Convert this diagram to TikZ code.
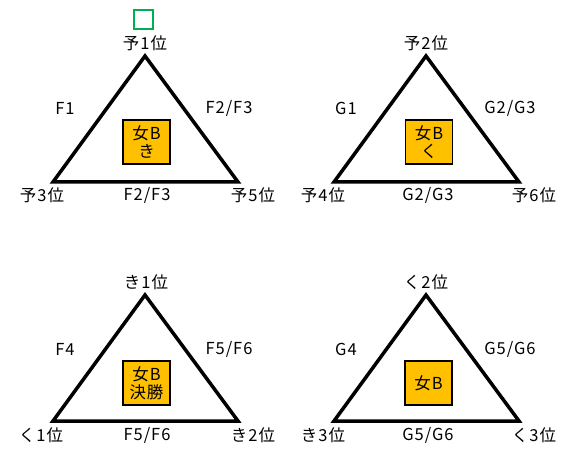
\documentclass[tikz,border=0pt]{standalone}
\usepackage{fontspec}
\setmainfont{Noto Sans CJK JP}[LetterSpace=6]
\definecolor{boxfill}{HTML}{FFC000}
\definecolor{markgreen}{HTML}{00B050}
\begin{document}
\begin{tikzpicture}[x=1pt,y=-1pt,
  tri/.style={line width=3.5pt,line join=miter},
  lbl/.style={inner sep=0pt,font=\fontsize{16.5}{18}\selectfont},
  centerbox/.style={draw=black,line width=1.6pt,fill=boxfill,minimum width=47pt,minimum height=44pt,inner sep=0pt,align=center,font=\fontsize{16.5}{17.5}\selectfont}]
\useasboundingbox (0,0) rectangle (562,454);
% green marker
\node[draw=markgreen,line width=1.3pt,minimum width=19pt,minimum height=19pt,inner sep=0pt] (mark) at (143.5,19.5) {};
% ---------- triangle 1 ----------
\begin{scope}
\coordinate (a1) at (145,56);
\coordinate (b1) at (53,182);
\coordinate (c1) at (238,182);
\draw[tri] (a1) -- (b1) -- (c1) -- cycle;
\node[centerbox] (box1) at (146.5,142) {女B\\き};
\node[lbl] (ta1) at (145,43) {予1位};
\node[lbl] (tl1) at (65,108) {F1};
\node[lbl] (tr1) at (229,108) {F2/F3};
\node[lbl] (tb1) at (147,195) {F2/F3};
\node[lbl] (bl1) at (42,195) {予3位};
\node[lbl] (br1) at (253,195) {予5位};
\end{scope}
% ---------- triangle 2 ----------
\begin{scope}
\coordinate (a2) at (426,56);
\coordinate (b2) at (334,182);
\coordinate (c2) at (519,182);
\draw[tri] (a2) -- (b2) -- (c2) -- cycle;
\node[centerbox] (box2) at (429,142) {女B\\く};
\node[lbl] (ta2) at (426,43) {予2位};
\node[lbl] (tl2) at (346,108) {G1};
\node[lbl] (tr2) at (510,108) {G2/G3};
\node[lbl] (tb2) at (428,195) {G2/G3};
\node[lbl] (bl2) at (323,195) {予4位};
\node[lbl] (br2) at (534,195) {予6位};
\end{scope}
% ---------- triangle 3 ----------
\begin{scope}
\coordinate (a3) at (145,295);
\coordinate (b3) at (53,421);
\coordinate (c3) at (238,421);
\draw[tri] (a3) -- (b3) -- (c3) -- cycle;
\node[centerbox] (box3) at (146.5,383) {女B\\決勝};
\node[lbl] (ta3) at (146,282) {き1位};
\node[lbl] (tl3) at (65,349) {F4};
\node[lbl] (tr3) at (229,349) {F5/F6};
\node[lbl] (tb3) at (147,435) {F5/F6};
\node[lbl] (bl3) at (41,435) {く1位};
\node[lbl] (br3) at (253,435) {き2位};
\end{scope}
% ---------- triangle 4 ----------
\begin{scope}
\coordinate (a4) at (426,295);
\coordinate (b4) at (334,421);
\coordinate (c4) at (519,421);
\draw[tri] (a4) -- (b4) -- (c4) -- cycle;
\node[centerbox] (box4) at (428.5,383) {女B};
\node[lbl] (ta4) at (426,282) {く2位};
\node[lbl] (tl4) at (346,349) {G4};
\node[lbl] (tr4) at (510,349) {G5/G6};
\node[lbl] (tb4) at (428,435) {G5/G6};
\node[lbl] (bl4) at (323,435) {き3位};
\node[lbl] (br4) at (534,435) {く3位};
\end{scope}
\end{tikzpicture}
\end{document}
